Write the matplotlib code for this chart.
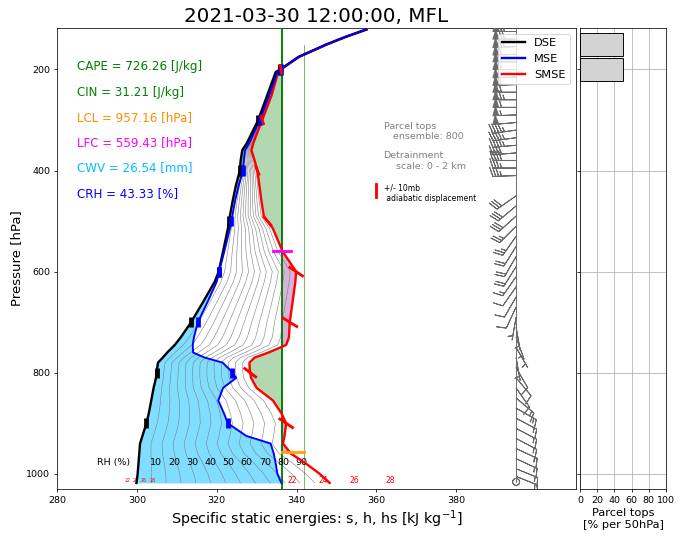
import numpy as np
import matplotlib
matplotlib.use('Agg')
import matplotlib.pyplot as plt
from matplotlib.lines import Line2D

# ---------------- data ----------------
p_lev = [1018, 1000, 980, 960, 940, 925, 900, 880, 855, 830, 810, 795, 780, 770,
         760, 745, 730, 700, 660, 620, 600, 560, 515, 490, 460, 430, 400, 380,
         360, 345, 300, 250, 205, 200, 175, 150, 135, 121]
dse = [299.9, 300.2, 300.4, 300.6, 300.8, 301.4, 302.4, 303.0, 303.6, 304.2, 304.8,
       305.0, 305.3, 306.5, 307.6, 309.5, 311.0, 313.6, 316.6, 319.5, 320.5, 321.6,
       322.8, 323.3, 324.0, 324.8, 325.8, 326.0, 326.4, 327.6, 330.4, 332.7, 334.8,
       335.9, 340.5, 347.6, 352.4, 357.4]
mse = [336.2, 335.2, 334.8, 334.3, 333.5, 327.4, 322.8, 321.8, 320.4, 321.6, 324.9,
       323.4, 321.5, 317.0, 314.1, 314.0, 314.3, 315.3, 317.7, 320.0, 320.6, 321.9,
       323.3, 323.9, 324.6, 325.5, 326.6, 326.8, 327.1, 328.2, 330.8, 333.2, 335.2,
       336.0, 340.6, 347.7, 352.5, 357.5]
smse = [348.3, 345.8, 342.4, 338.6, 336.6, 337.0, 337.4, 336.2, 334.1, 330.0, 328.6,
        328.3, 328.2, 329.5, 333.0, 337.4, 338.1, 338.3, 339.0, 339.7, 339.9, 336.5,
        334.1, 331.8, 331.2, 330.7, 330.2, 329.5, 328.7, 329.2, 331.4, 333.8, 335.4,
        336.1, 340.7, 347.8, 352.6, 357.6]

parcel_mse = 336.3
parcel_mse_alt = 341.75
parcel_alt_top = 152
lcl_p = 957.16
lfc_p = 559.43
lnb_p = 200

stats_labels = ['CAPE = 726.26 [J/kg]', 'CIN = 31.21 [J/kg]', 'LCL = 957.16 [hPa]',
                'LFC = 559.43 [hPa]', 'CWV = 26.54 [mm]', 'CRH = 43.33 [%]']
stats_colors = ['green', 'green', 'darkorange', 'magenta', 'deepskyblue', 'blue']
stats_p = [195, 245, 295, 345, 395, 445]

rh_fracs = [0.077, 0.154, 0.231, 0.308, 0.385, 0.462,
            0.538, 0.615, 0.692, 0.769, 0.846, 0.923]
rh_label_vals = [10, 20, 30, 40, 50, 60, 70, 80, 90]

marker_p = [200, 300, 400, 500, 600, 700, 800, 900]
smse_marker_delta = [0.4, 0.8, 1.0, 2.2, 3.75, 4.1, 3.3, 3.75]

sst_labels = ['22', '24', '26', '28']
sst_hs = [339.0, 346.8, 354.5, 363.5]
sst_s = [297.6, 299.7, 301.8, 303.9]

wind_p = [125, 140, 155, 170, 185, 200, 215, 230, 245, 260, 275, 290, 305, 320,
          335, 350, 365, 380, 395, 410, 450, 470, 490, 510, 530, 550, 570, 590,
          610, 630, 650, 670, 690, 710, 730, 750, 770, 790, 810, 830, 850, 870,
          890, 910, 930, 950, 970, 990, 1005, 1016]
wind_spd = [65, 70, 65, 60, 55, 55, 55, 60, 60, 65, 60, 55, 50, 45,
            45, 45, 40, 40, 35, 35, 30, 30, 30, 25, 25, 20, 20, 20,
            15, 10, 10, 10, 5, 5, 5, 5, 5, 10, 10, 10, 15, 15,
            15, 15, 15, 15, 15, 15, 15, 0]
wind_dir = [270, 270, 268, 268, 270, 270, 268, 268, 270, 270, 270, 268, 265, 262,
            262, 265, 265, 270, 270, 268, 235, 230, 228, 225, 215, 212, 210, 212,
            215, 215, 210, 205, 190, 170, 160, 150, 170, 150, 140, 145, 130, 120,
            118, 118, 118, 115, 115, 112, 112, 0]
wind_x = 395

tops_p = [150, 200]
tops_pct = [50, 50]

# ---------------- figure ----------------
DPI = 68.3
fig = plt.figure(figsize=(683 / DPI, 545 / DPI), dpi=DPI)
W, H = 683.0, 545.0
ax = fig.add_axes([57 / W, 1 - 489 / H, (576 - 57) / W, (489 - 28) / H])
ax2 = fig.add_axes([580 / W, 1 - 489 / H, (666 - 580) / W, (489 - 28) / H], sharey=ax)

p = np.array(p_lev, dtype=float)
s = np.array(dse)
h = np.array(mse)
hs = np.array(smse)
p_asc = p[::-1]

# light blue fill between DSE and MSE
ax.fill_betweenx(p, s, h, color='deepskyblue', alpha=0.5, lw=0, zorder=1)

# buoyancy fills between LCL and LNB
pf = np.linspace(lnb_p, lcl_p, 600)
hsf = np.interp(pf, p_asc, hs[::-1])
ax.fill_betweenx(pf, hsf, parcel_mse, where=hsf <= parcel_mse, interpolate=True,
                 color='green', alpha=0.3, lw=0, zorder=1)
ax.fill_betweenx(pf, hsf, parcel_mse, where=hsf >= parcel_mse, interpolate=True,
                 color='purple', alpha=0.3, lw=0, zorder=1)

# RH lines
for f in rh_fracs:
    ax.plot(s + f * (hs - s), p, color='gray', lw=0.6, zorder=2)

# parcel lines
ax.axvline(parcel_mse, color='green', lw=2, zorder=3)
ax.plot([parcel_mse_alt, parcel_mse_alt], [1030, parcel_alt_top], color='green',
        lw=0.8, alpha=0.7, zorder=3)

# profiles
ax.plot(hs, p, color='red', lw=2.5, zorder=4)
ax.plot(s, p, color='black', lw=2.5, zorder=5)
ax.plot(h, p, color='blue', lw=2, zorder=6)

# +/- 10 mb adiabatic displacement markers
mk_s = np.interp(marker_p, p_asc, s[::-1])
mk_h = np.interp(marker_p, p_asc, h[::-1])
mk_hs = np.interp(marker_p, p_asc, hs[::-1])
for pm, a, b, c, d in zip(marker_p, mk_s, mk_h, mk_hs, smse_marker_delta):
    ax.plot([a, a], [pm - 10, pm + 10], color='black', lw=5, solid_capstyle='butt', zorder=7)
    ax.plot([b, b], [pm - 10, pm + 10], color='blue', lw=5, solid_capstyle='butt', zorder=7)
    ax.plot([c - d / 2, c + d / 2], [pm - 10, pm + 10], color='red', lw=3,
            solid_capstyle='butt', zorder=7)

# LCL / LFC
ax.plot([parcel_mse, parcel_mse_alt], [lcl_p, lcl_p], color='orange', lw=3, zorder=8)
ax.plot([parcel_mse - 2.3, parcel_mse + 2.3], [lfc_p, lfc_p], color='magenta', lw=3, zorder=8)

# winds
spd = np.array(wind_spd, dtype=float)
drad = np.deg2rad(np.array(wind_dir, dtype=float))
u = -spd * np.sin(drad)
v = -spd * np.cos(drad)
ax.plot([wind_x, wind_x], [wind_p[-1], 118], color='dimgray', lw=1, zorder=3)
ax.barbs(np.full(len(wind_p), wind_x), wind_p, u, v, length=7, color='dimgray',
         lw=1, zorder=3)

# texts
for lab, col, pp in zip(stats_labels, stats_colors, stats_p):
    ax.text(285, pp, lab, color=col, fontsize=12.5, va='center', ha='left')

ax.text(361.8, 303, 'Parcel tops\n   ensemble: 800', color='gray', fontsize=10,
        va='top', ha='left')
ax.text(361.8, 362, 'Detrainment\n    scale: 0 - 2 km', color='gray', fontsize=10,
        va='top', ha='left')
ax.plot([359.8, 359.8], [426, 452], color='red', lw=3)
ax.text(362, 425, '+/- 10mb\n adiabatic displacement', color='black', fontsize=8,
        va='top', ha='left')

s1000 = np.interp(1000, p_asc, s[::-1])
hs1000 = np.interp(1000, p_asc, hs[::-1])
ax.text(290, 978, 'RH (%)', fontsize=10, va='center', ha='left')
for r in rh_label_vals:
    ax.text(s1000 + r / 100 * (hs1000 - s1000), 978, str(r), fontsize=10,
            va='center', ha='center')
for lab, xx in zip(sst_labels, sst_hs):
    ax.text(xx, 1014, lab, color='red', fontsize=8, va='center', ha='center')
for lab, xx in zip(sst_labels, sst_s):
    ax.text(xx, 1014, lab, color='red', fontsize=5, va='center', ha='center')

ax.set_xlim(280, 410)
ax.set_xticks([280, 300, 320, 340, 360, 380])
ax.set_ylim(1030, 118)
ax.set_yticks([200, 400, 600, 800, 1000])
ax.set_xlabel('Specific static energies: s, h, hs [kJ kg$^{-1}$]', fontsize=15)
ax.set_ylabel('Pressure [hPa]', fontsize=14)
ax.set_title('2021-03-30 12:00:00, MFL', fontsize=21)

handles = [Line2D([], [], color='black', lw=2.5),
           Line2D([], [], color='blue', lw=2.5),
           Line2D([], [], color='red', lw=2.5)]
ax.legend(handles, ['DSE', 'MSE', 'SMSE'], loc='upper right', fontsize=12)

# parcel tops panel
ax2.barh(tops_p, tops_pct, height=45, color='lightgray', edgecolor='black', zorder=2)
ax2.set_xlim(0, 100)
ax2.set_xticks([0, 20, 40, 60, 80, 100])
ax2.grid(True, zorder=0)
ax2.set_axisbelow(True)
ax2.tick_params(labelleft=False)
ax2.set_xlabel('Parcel tops\n[% per 50hPa]', fontsize=12)

fig.savefig('out.png', dpi=DPI)
